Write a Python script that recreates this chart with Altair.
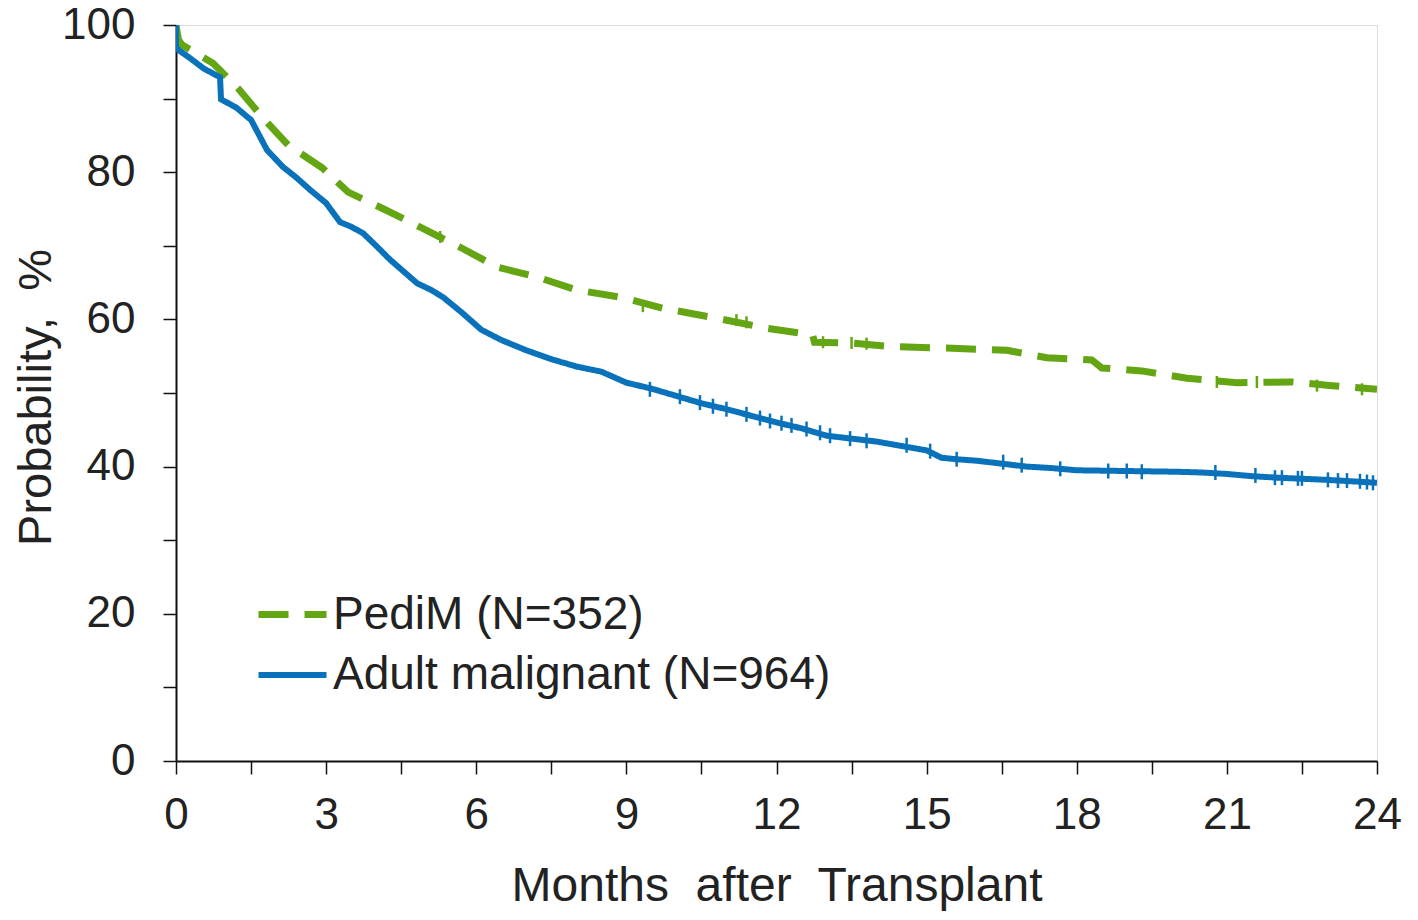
import altair as alt
import pandas as pd

# ---- data ----
ped_label = "PediM (N=352)"
adult_label = "Adult malignant (N=964)"

adult_t = [0, 0, 0.05, 0.3, 0.55, 0.88, 0.9, 1.2, 1.5, 1.82, 2.14, 2.4, 2.68, 3.0, 3.28, 3.5, 3.74, 4.0, 4.28,
           4.55, 4.82, 5.1, 5.34, 5.7, 6.1, 6.5, 7.0, 7.5, 8.0, 8.5, 8.8, 9.0, 9.5, 10.0, 10.5, 11.0, 11.5,
           12.0, 12.5, 13.0, 13.5, 14.0, 14.5, 15.0, 15.3, 15.6, 16.0, 16.5, 17.0, 17.5, 18.0, 19.0, 20.0,
           20.5, 21.0, 21.5, 22.0, 23.0, 24.0]
adult_s = [100, 97.0, 96.6, 95.4, 94.1, 92.9, 89.9, 88.8, 87.1, 83.0, 80.7, 79.3, 77.6, 75.8, 73.2, 72.6, 71.7,
           70.0, 68.1, 66.5, 64.9, 64.0, 63.0, 61.0, 58.6, 57.2, 55.8, 54.6, 53.6, 52.9, 52.0, 51.4, 50.6,
           49.6, 48.6, 47.8, 46.9, 46.0, 45.2, 44.2, 43.8, 43.4, 42.8, 42.2, 41.2, 41.0, 40.8, 40.4, 40.0,
           39.8, 39.5, 39.4, 39.3, 39.2, 39.0, 38.7, 38.5, 38.2, 37.8]

ped_t = [0, 0.05, 0.12, 0.74, 1.24, 1.72, 2.24, 2.92, 3.44, 4.18, 4.92, 5.68, 6.42, 7.2, 8.0, 8.9, 9.74,
         10.7, 11.8, 12.72, 12.76, 13.5, 14.3, 15.4, 16.6, 17.4, 18.3, 18.5, 19.3, 20.2, 21.2, 22.3, 23.1, 24.0]
ped_s = [100, 98.0, 97.3, 94.8, 91.4, 87.5, 83.7, 80.6, 77.3, 74.9, 72.4, 69.8, 67.1, 65.8, 64.0, 63.0, 61.5,
         60.3, 58.8, 57.9, 56.9, 56.8, 56.3, 56.1, 55.8, 54.8, 54.5, 53.4, 53.0, 52.0, 51.4, 51.5, 51.0, 50.5]

# censoring marks (time, percent)
adult_cens_t = [9.47, 10.07, 10.47, 10.73, 11.0, 11.4, 11.67, 11.87, 12.1, 12.3, 12.6, 12.87, 13.07, 13.47,
                13.8, 14.6, 15.07, 15.6, 16.53, 16.9, 17.67, 18.63, 19.0, 19.3, 20.77, 21.57, 21.96, 22.1,
                22.42, 22.5, 23.02, 23.22, 23.4, 23.66, 23.8, 23.92]
adult_cens_s = [50.5, 49.5, 48.7, 48.2, 47.8, 47.1, 46.6, 46.2, 45.9, 45.6, 45.1, 44.6, 44.2, 43.8, 43.5,
                42.9, 42.1, 41.0, 40.6, 40.2, 39.7, 39.4, 39.4, 39.3, 39.2, 38.8, 38.5, 38.5, 38.4, 38.4,
                38.2, 38.1, 38.1, 38.0, 37.9, 37.8]
ped_cens_t = [5.28, 9.33, 11.2, 11.4, 12.93, 13.5, 13.8, 20.8, 21.6, 22.8, 23.7]
ped_cens_s = [71.2, 61.8, 59.9, 59.6, 56.9, 56.8, 56.7, 51.5, 51.5, 51.0, 50.5]

GREEN = "#64a514"
BLUE = "#0a72bb"
FONT = "Liberation Sans"
TXT = "#222222"

rows = []
for i, (t, s) in enumerate(zip(ped_t, ped_s)):
    rows.append({"group": ped_label, "t": t, "s": s, "idx": i})
for i, (t, s) in enumerate(zip(adult_t, adult_s)):
    rows.append({"group": adult_label, "t": t, "s": s, "idx": i})
curves = pd.DataFrame(rows)

cens = pd.DataFrame(
    [{"t": t, "s": s, "c": BLUE, "len": 15} for t, s in zip(adult_cens_t, adult_cens_s)]
    + [{"t": t, "s": s, "c": GREEN, "len": 12} for t, s in zip(ped_cens_t, ped_cens_s)]
)

xscale = alt.Scale(domain=[0, 24], nice=False, zero=False)
yscale = alt.Scale(domain=[0, 100], nice=False)

xaxis = alt.Axis(
    values=[i * 1.5 for i in range(17)],
    labelExpr="datum.value % 3 == 0 ? datum.label : ''",
    title="Months\u00a0 after\u00a0 Transplant",
    grid=False, tickSize=13, tickColor="#111", tickWidth=1.5,
    domainColor="#111", domainWidth=2,
    labelFontSize=44, labelFont=FONT, labelColor=TXT, labelPadding=19,
    labelFlush=False,
    titleFontSize=48, titleFont=FONT, titleColor=TXT, titleFontWeight="normal",
    titleBaseline="alphabetic", titleY=139,
)
yaxis = alt.Axis(
    values=list(range(0, 101, 10)),
    labelExpr="datum.value % 20 == 0 ? datum.label : ''",
    title="Probability,\u00a0 %",
    grid=False, tickSize=13, tickColor="#111", tickWidth=1.5,
    domainColor="#111", domainWidth=2,
    labelFontSize=44, labelFont=FONT, labelColor=TXT, labelPadding=28,
    labelFlush=False,
    titleFontSize=47, titleFont=FONT, titleColor=TXT, titleFontWeight="normal",
    titleBaseline="alphabetic", titleX=-126, titleY=372,
)

legend_cfg = dict(
    title=None, orient="none", legendX=79, legendY=552,
    symbolType="stroke", symbolSize=4624, symbolStrokeWidth=6.5,
    labelFontSize=46, labelFont=FONT, labelColor=TXT, labelOffset=3,
    rowPadding=0, symbolOpacity=1, labelLimit=800,
)

lines = alt.Chart(curves).mark_line(clip=True).encode(
    x=alt.X("t:Q", scale=xscale, axis=xaxis),
    y=alt.Y("s:Q", scale=yscale, axis=yaxis),
    order=alt.Order("idx:Q"),
    color=alt.Color(
        "group:N",
        scale=alt.Scale(domain=[ped_label, adult_label], range=[GREEN, BLUE]),
        legend=alt.Legend(**legend_cfg),
    ),
    strokeDash=alt.StrokeDash(
        "group:N",
        scale=alt.Scale(domain=[ped_label, adult_label], range=[[30, 16], [1, 0]]),
        legend=alt.Legend(**legend_cfg),
    ),
    strokeWidth=alt.StrokeWidth(
        "group:N",
        scale=alt.Scale(domain=[ped_label, adult_label], range=[7, 6]),
        legend=None,
    ),
)

ticks = alt.Chart(cens).mark_tick(orient="vertical", thickness=2.5, opacity=1).encode(
    x=alt.X("t:Q", scale=xscale),
    y=alt.Y("s:Q", scale=yscale),
    color=alt.Color("c:N", scale=None),
    size=alt.Size("len:Q", scale=None),
)

chart = alt.layer(lines, ticks).properties(
    width=1201, height=736,
    autosize=alt.AutoSizeParams(type="none"),
    padding={"left": 168, "top": 17, "right": 33, "bottom": 160},
).configure_view(
    stroke="#222", strokeWidth=2,
).configure(background="white")

chart.save("out.html", embed_options={"renderer": "svg", "actions": False})
